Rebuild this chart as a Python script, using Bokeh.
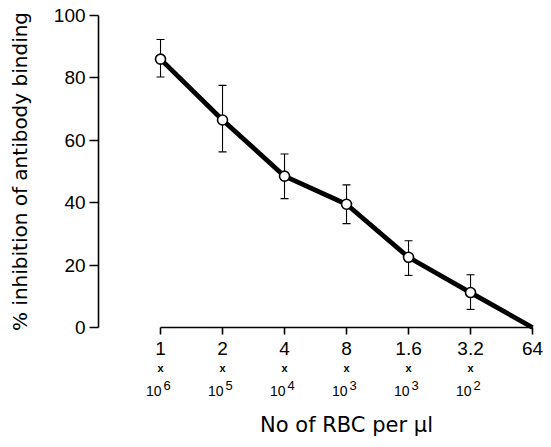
import math
from bokeh.plotting import figure
from bokeh.models import (ColumnDataSource, Range1d, FixedTicker, Whisker, TeeHead,
                          LabelSet, Label)
from bokeh.core.properties import value
from bokeh.embed import file_html
from bokeh.resources import INLINE

# ---- data ----
count_mantissa = ["1", "2", "4", "8", "1.6", "3.2", "64"]
count_exponent = ["6", "5", "4", "3", "3", "2", ""]
inhibition = [86, 66.5, 48.5, 39.5, 22.5, 11.2, 0]
err_lower = [80.3, 56.3, 41.3, 33.3, 16.7, 5.8]
err_upper = [92.3, 77.6, 55.6, 45.7, 27.8, 16.9]
y_ticks = [0, 20, 40, 60, 80, 100]
x_title = "No of RBC per µl"
y_title = "% inhibition of antibody binding"

x_idx = list(range(len(count_mantissa)))
n_err = len(err_lower)

# frame covers the whole figure; axes are drawn at fixed locations inside it
p = figure(width=543, height=439, output_backend="svg", toolbar_location=None,
           x_range=Range1d(-2.581, 6.177), y_range=Range1d(-35.9, 104.8),
           min_border=0)
p.outline_line_color = None
p.grid.visible = False
p.background_fill_color = "white"
p.border_fill_color = "white"

AXIS_X = -1  # where the y axis stands (in x units)

for ax in (p.xaxis, p.yaxis):
    ax.minor_tick_line_color = None
    ax.major_tick_in = 0
    ax.axis_line_width = 1.6
    ax.major_tick_line_width = 1.6
    ax.axis_line_color = "black"
    ax.major_tick_line_color = "black"
    ax.major_label_text_font = "Liberation Sans"
    ax.major_label_text_font_size = "19px"
    ax.major_label_text_color = "black"

# y axis
p.yaxis.fixed_location = AXIS_X
p.yaxis.bounds = (0, 100)
p.yaxis.ticker = FixedTicker(ticks=y_ticks)
p.yaxis.major_tick_out = 9
p.yaxis.major_label_standoff = 4

# x axis
p.xaxis.fixed_location = 0
p.xaxis.bounds = (0, len(count_mantissa) - 1)
p.xaxis.ticker = FixedTicker(ticks=x_idx)
p.xaxis.major_label_overrides = {i: s for i, s in zip(x_idx, count_mantissa)}
p.xaxis.major_tick_out = 7
p.xaxis.major_label_standoff = 8

# error bars
err_src = ColumnDataSource(dict(x=x_idx[:n_err], lower=err_lower, upper=err_upper))
p.add_layout(Whisker(base="x", lower="lower", upper="upper", source=err_src,
                     line_width=1.1, line_color="black",
                     upper_head=TeeHead(size=8, line_width=1.1, line_color="black"),
                     lower_head=TeeHead(size=8, line_width=1.1, line_color="black")))

# main line and markers
p.line(x_idx, inhibition, line_width=4.8, line_color="black", line_join="round")
p.scatter(x_idx[:n_err], inhibition[:n_err], size=10, marker="circle",
          fill_color="white", line_color="black", line_width=1.6)

# second and third lines of the tick labels ("x" and "10^n")
lab_src = ColumnDataSource(dict(x=x_idx[:n_err], y=[0] * n_err,
                                times=["x"] * n_err, base=["10"] * n_err,
                                exp=count_exponent[:n_err]))
p.add_layout(LabelSet(x="x", y="y", text="times", source=lab_src, y_offset=-41,
                      text_align="center", text_baseline="middle",
                      text_font=value("Liberation Sans"), text_font_size="11px",
                      text_font_style="bold", text_color="black"))
p.add_layout(LabelSet(x="x", y="y", text="base", source=lab_src, y_offset=-64, x_offset=1,
                      text_align="right", text_baseline="middle",
                      text_font=value("Liberation Sans"), text_font_size="14px",
                      text_color="black"))
p.add_layout(LabelSet(x="x", y="y", text="exp", source=lab_src, y_offset=-58, x_offset=3,
                      text_align="left", text_baseline="middle",
                      text_font=value("Liberation Sans"), text_font_size="13px",
                      text_color="black"))

# axis titles
p.add_layout(Label(x=(x_idx[0] + x_idx[-1]) / 2, y=0, y_offset=-98, text=x_title,
                   text_align="center", text_baseline="middle",
                   text_font="DejaVu Sans", text_font_size="21px",
                   text_color="black"))
p.add_layout(Label(x=AXIS_X, y=(y_ticks[0] + y_ticks[-1]) / 2, x_offset=-79,
                   angle=math.pi / 2, text=y_title,
                   text_align="center", text_baseline="middle",
                   text_font="DejaVu Sans", text_font_size="20px",
                   text_color="black"))

open("out.html", "w").write(file_html(p, INLINE))
